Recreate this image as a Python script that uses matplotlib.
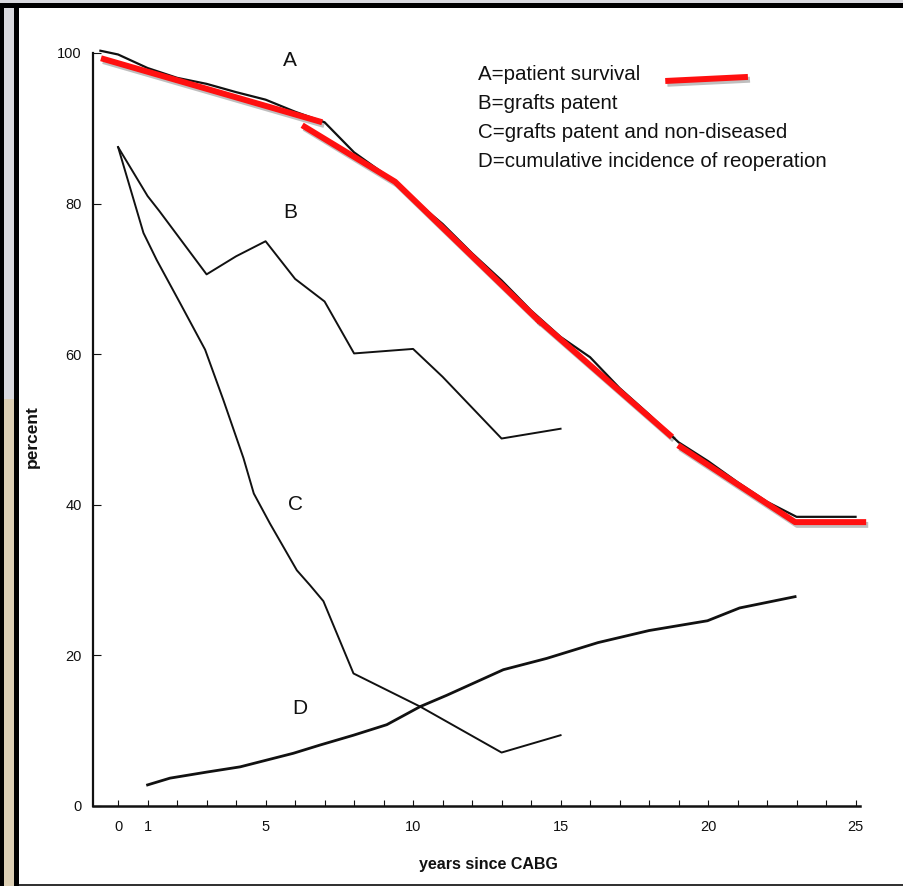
"""
Recreate the scanned CABG follow-up chart (survival, graft patency,
reoperation) with the hand-drawn red overlay on curve A.
"""

import matplotlib
matplotlib.use("Agg")

import matplotlib.pyplot as plt
import matplotlib.patheffects as pe
from matplotlib.lines import Line2D
from matplotlib.patches import Rectangle

plt.rcParams["font.family"] = ["Liberation Sans", "DejaVu Sans"]

# ───────────────────────── Data ────────────────────────
# A = patient survival
a_years = [-0.6, 0, 1, 2, 3, 4, 5, 6, 7, 8, 9, 10, 11, 12, 13, 14, 15,
           16, 17, 18, 19, 20, 21, 22, 23, 25]
a_pct = [100.3, 99.8, 98.0, 96.7, 95.9, 94.8, 93.8, 92.2, 90.8, 86.8, 84.0,
         80.6, 77.3, 73.4, 69.8, 65.8, 62.3, 59.6, 55.5, 52.0, 48.3, 45.8,
         43.0, 40.4, 38.4, 38.4]

# B = grafts patent
b_years = [0, 1, 1.4, 3, 4, 5, 6, 7, 8, 10, 11, 13, 15]
b_pct = [87.5, 81.0, 79.0, 70.6, 73.0, 75.0, 70.0, 67.0, 60.1, 60.7, 57.0,
         48.8, 50.1]

# C = grafts patent and non-diseased
c_years = [0, 0.86, 1.31, 2.1, 2.95, 3.57, 4.25, 4.6, 5.15, 6.06, 6.51,
           6.96, 7.98, 10.24, 13.0, 15.0]
c_pct = [87.5, 76.1, 72.5, 66.8, 60.6, 53.9, 46.2, 41.5, 37.5, 31.3, 29.3,
         27.2, 17.6, 13.2, 7.1, 9.4]

# D = cumulative incidence of reoperation
d_years = [1.0, 1.76, 3.0, 4.14, 5.94, 6.85, 7.98, 9.11, 10.24, 11.14,
           13.06, 14.53, 16.27, 18.0, 19.98, 21.07, 22.95]
d_pct = [2.8, 3.7, 4.5, 5.2, 7.0, 8.1, 9.4, 10.8, 13.2, 14.7, 18.1, 19.6,
         21.7, 23.3, 24.6, 26.3, 27.8]

# Hand-drawn red overlay on curve A (four pen strokes)
red_strokes = [
    ([-0.58, 6.92], [99.3, 90.8]),
    ([6.24, 9.39, 14.3], [90.4, 82.9, 64.3]),
    ([14.2, 18.78], [64.7, 49.0]),
    ([18.98, 22.95, 25.36], [47.9, 37.7, 37.7]),
]

curve_labels = ["A", "B", "C", "D"]
label_pos = [(5.83, 99.0), (5.83, 78.8), (6.03, 40.0), (6.17, 13.0)]

legend_lines = [
    "A=patient survival",
    "B=grafts patent",
    "C=grafts patent and non-diseased",
    "D=cumulative incidence of reoperation",
]

x_major = [0, 1, 5, 10, 15, 20, 25]
x_minor = list(range(0, 26))
y_major = [0, 20, 40, 60, 80, 100]

RED = "#ff1010"
INK = "#111111"
W, H = 904, 886


def _px_rect(fig, x, y, w, h, color):
    """Rectangle given in pixels measured from the top-left corner."""
    fig.patches.append(Rectangle((x / W, 1 - (y + h) / H), w / W, h / H,
                                 transform=fig.transFigure,
                                 facecolor=color, edgecolor="none"))


def build_figure():
    fig = plt.figure(figsize=(W / 100, H / 100), dpi=100)
    ax = fig.add_axes([0.1029, 0.0903, 0.8484, 0.8499])
    ax.set_xlim(-0.85, 25.15)
    ax.set_ylim(0, 100)

    # curves
    ax.plot(a_years, a_pct, color=INK, lw=1.6, clip_on=False)
    ax.plot(b_years, b_pct, color=INK, lw=1.4, clip_on=False)
    ax.plot(c_years, c_pct, color=INK, lw=1.4, clip_on=False)
    ax.plot(d_years, d_pct, color=INK, lw=2.0, clip_on=False)

    shadow = [pe.SimpleLineShadow(offset=(1.5, -2), alpha=0.25),
              pe.Normal()]
    for xs, ys in red_strokes:
        ax.plot(xs, ys, color=RED, lw=4.3, solid_capstyle="butt",
                clip_on=False, path_effects=shadow, zorder=5)

    for lab, (x, y) in zip(curve_labels, label_pos):
        ax.text(x, y, lab, ha="center", va="center", fontsize=15,
                color=INK)

    # legend block
    for i, line in enumerate(legend_lines):
        ax.text(0.502, 0.971 - i * 0.0385, line, transform=ax.transAxes,
                ha="left", va="center", fontsize=14.8, color=INK)
    ax.add_line(Line2D([0.750, 0.850], [0.963, 0.968],
                       transform=ax.transAxes, color=RED, lw=4.3,
                       path_effects=shadow, clip_on=False))

    # axes styling
    for side in ("top", "right"):
        ax.spines[side].set_visible(False)
    ax.spines["left"].set_linewidth(1.6)
    ax.spines["bottom"].set_linewidth(1.8)
    ax.spines["left"].set_color(INK)
    ax.spines["bottom"].set_color(INK)

    ax.set_xticks(x_major)
    ax.set_xticks(x_minor, minor=True)
    ax.set_yticks(y_major)
    ax.tick_params(axis="x", which="both", direction="in", length=4,
                   width=0.8, colors=INK, labelsize=10.5, pad=10)
    ax.tick_params(axis="y", which="both", direction="in", length=6,
                   width=0.8, colors=INK, labelsize=10.5, pad=8)

    ax.set_xlabel("years since CABG", fontsize=11.5, fontweight="bold",
                  color=INK)
    ax.xaxis.set_label_coords(0.515, -0.068)
    ax.set_ylabel("percent", fontsize=12.5, fontweight="bold", color=INK)
    ax.yaxis.set_label_coords(-0.069, 0.49)

    # scanned page frame (pixels from top-left)
    _px_rect(fig, 0, 0, 4, H, "black")
    _px_rect(fig, 4, 0, 10, H * 0.45, "#d9d9de")
    _px_rect(fig, 4, H * 0.45, 10, H * 0.55, "#dccfb4")
    _px_rect(fig, 14, 0, 5, H, "black")
    _px_rect(fig, 0, 0, W, 3, "#d9d9de")
    _px_rect(fig, 0, 3, W, 5, "black")
    _px_rect(fig, 19, H - 2, W - 19, 2, "#333333")
    return fig


def main():
    fig = build_figure()
    fig.savefig("out.png", dpi=100)
    plt.close(fig)


if __name__ == "__main__":
    main()
